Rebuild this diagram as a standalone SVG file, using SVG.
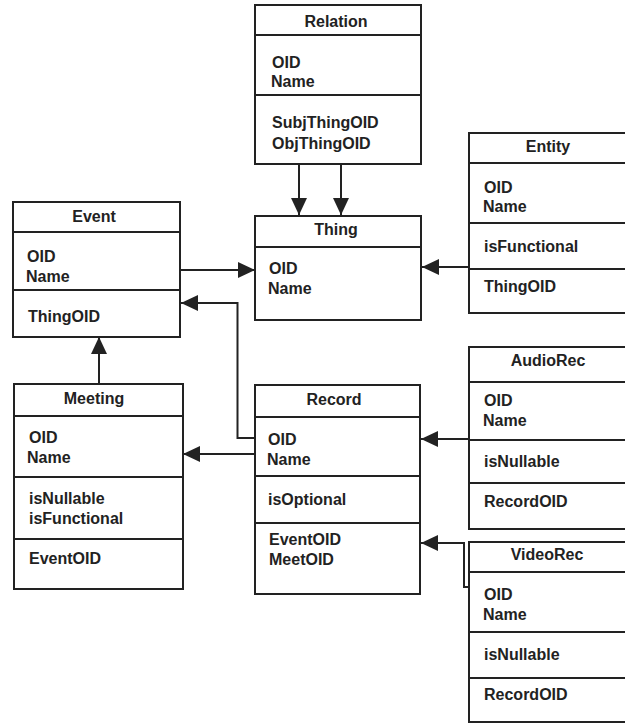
<svg xmlns="http://www.w3.org/2000/svg" width="625" height="724" viewBox="0 0 625 724">
  <style>
    .box { fill: #ffffff; stroke: #222222; stroke-width: 2; }
    .sep { stroke: #222222; stroke-width: 2; }
    .t { font-family: "Liberation Sans", Arial, sans-serif; font-weight: bold; font-size: 16px; fill: #222222; }
    .title { text-anchor: middle; }
    .conn { fill: none; stroke: #222222; stroke-width: 2; marker-end: url(#arrow); }
  </style>
  <defs>
    <marker id="arrow" markerUnits="userSpaceOnUse" markerWidth="18" markerHeight="18" refX="17" refY="8" orient="auto">
      <path d="M0,0 L17,8 L0,16 Z" fill="#222222"/>
    </marker>
  </defs>
  <rect width="625" height="724" fill="#ffffff"/>

  <g id="connectors">
    <path class="conn" d="M299,164 V215"/>
    <path class="conn" d="M341,164 V215"/>
    <path class="conn" d="M180,270 H255"/>
    <path class="conn" d="M469,267 H422"/>
    <path class="conn" d="M99,384 V337"/>
    <path class="conn" d="M255,438 H237.5 V303 H181"/>
    <path class="conn" d="M255,454 H183"/>
    <path class="conn" d="M469,439 H421"/>
    <path class="conn" d="M469,587 H464 V543 H421"/>
  </g>

  <g id="relation">
    <rect class="box" x="255" y="5" width="166" height="159"/>
    <line class="sep" x1="255" y1="35" x2="421" y2="35"/>
    <line class="sep" x1="255" y1="95" x2="421" y2="95"/>
    <text class="t title" x="336" y="27">Relation</text>
    <text class="t" x="272" y="68">OID</text>
    <text class="t" x="271" y="87">Name</text>
    <text class="t" x="272" y="128">SubjThingOID</text>
    <text class="t" x="272" y="149">ObjThingOID</text>
  </g>

  <g id="thing">
    <rect class="box" x="255" y="216" width="166" height="104"/>
    <line class="sep" x1="255" y1="247" x2="421" y2="247"/>
    <text class="t title" x="336" y="235">Thing</text>
    <text class="t" x="269" y="274">OID</text>
    <text class="t" x="268" y="294">Name</text>
  </g>

  <g id="event">
    <rect class="box" x="13" y="202" width="167" height="135"/>
    <line class="sep" x1="13" y1="232" x2="180" y2="232"/>
    <line class="sep" x1="13" y1="290" x2="180" y2="290"/>
    <text class="t title" x="94" y="222">Event</text>
    <text class="t" x="27" y="262">OID</text>
    <text class="t" x="26" y="282">Name</text>
    <text class="t" x="28" y="322">ThingOID</text>
  </g>

  <g id="entity">
    <rect class="box" x="469" y="133" width="160" height="180"/>
    <line class="sep" x1="469" y1="163" x2="629" y2="163"/>
    <line class="sep" x1="469" y1="223" x2="629" y2="223"/>
    <line class="sep" x1="469" y1="269" x2="629" y2="269"/>
    <text class="t title" x="548" y="152">Entity</text>
    <text class="t" x="484" y="193">OID</text>
    <text class="t" x="483" y="212">Name</text>
    <text class="t" x="484" y="252">isFunctional</text>
    <text class="t" x="484" y="292">ThingOID</text>
  </g>

  <g id="meeting">
    <rect class="box" x="14" y="384" width="169" height="205"/>
    <line class="sep" x1="14" y1="416" x2="183" y2="416"/>
    <line class="sep" x1="14" y1="477" x2="183" y2="477"/>
    <line class="sep" x1="14" y1="539" x2="183" y2="539"/>
    <text class="t title" x="94" y="404">Meeting</text>
    <text class="t" x="29" y="443">OID</text>
    <text class="t" x="27" y="463">Name</text>
    <text class="t" x="29" y="504">isNullable</text>
    <text class="t" x="29" y="524">isFunctional</text>
    <text class="t" x="29" y="564">EventOID</text>
  </g>

  <g id="record">
    <rect class="box" x="255" y="385" width="165" height="209"/>
    <line class="sep" x1="255" y1="417" x2="420" y2="417"/>
    <line class="sep" x1="255" y1="476" x2="420" y2="476"/>
    <line class="sep" x1="255" y1="523" x2="420" y2="523"/>
    <text class="t title" x="334" y="405">Record</text>
    <text class="t" x="268" y="445">OID</text>
    <text class="t" x="267" y="465">Name</text>
    <text class="t" x="268" y="505">isOptional</text>
    <text class="t" x="269" y="545">EventOID</text>
    <text class="t" x="269" y="565">MeetOID</text>
  </g>

  <g id="audiorec">
    <rect class="box" x="469" y="347" width="160" height="182"/>
    <line class="sep" x1="469" y1="382" x2="629" y2="382"/>
    <line class="sep" x1="469" y1="440" x2="629" y2="440"/>
    <line class="sep" x1="469" y1="483" x2="629" y2="483"/>
    <text class="t title" x="548" y="366">AudioRec</text>
    <text class="t" x="484" y="406">OID</text>
    <text class="t" x="483" y="426">Name</text>
    <text class="t" x="484" y="467">isNullable</text>
    <text class="t" x="484" y="507">RecordOID</text>
  </g>

  <g id="videorec">
    <rect class="box" x="469" y="542" width="160" height="180"/>
    <line class="sep" x1="469" y1="572" x2="629" y2="572"/>
    <line class="sep" x1="469" y1="632" x2="629" y2="632"/>
    <line class="sep" x1="469" y1="678" x2="629" y2="678"/>
    <text class="t title" x="547" y="560">VideoRec</text>
    <text class="t" x="484" y="600">OID</text>
    <text class="t" x="483" y="620">Name</text>
    <text class="t" x="484" y="660">isNullable</text>
    <text class="t" x="484" y="700">RecordOID</text>
  </g>
</svg>
